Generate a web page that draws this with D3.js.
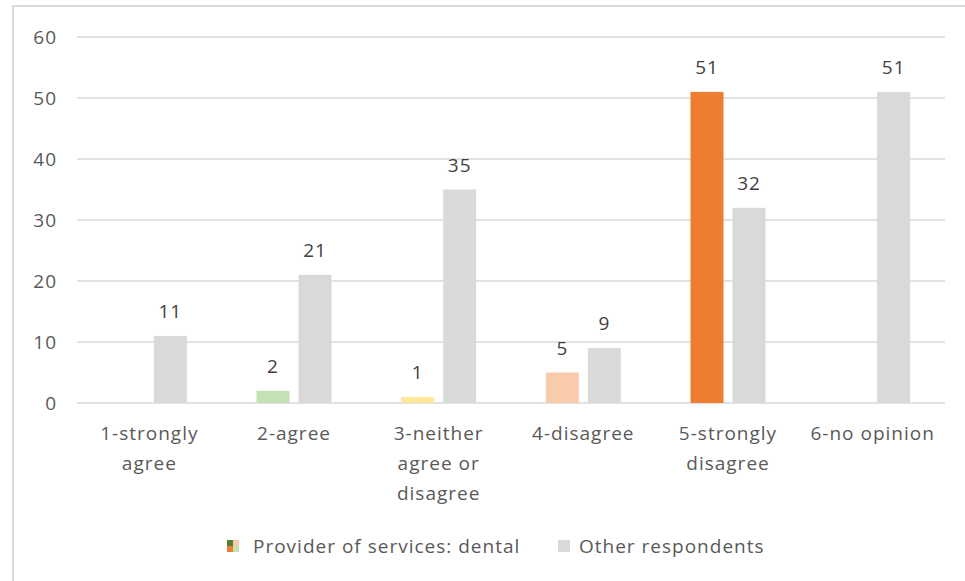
<!DOCTYPE html>
<html>
<head>
<meta charset="utf-8">
<script src="https://cdn.jsdelivr.net/npm/d3@7"></script>
<style>
  body { margin: 0; background: #fff; }
  svg { display: block; font-family: "Open Sans", sans-serif; }
  svg text { font-size: 19px; letter-spacing: 1px; }
</style>
</head>
<body>
<div id="chart"></div>
<script>
const categories = ["1-strongly agree", "2-agree", "3-neither agree or disagree", "4-disagree", "5-strongly disagree", "6-no opinion"];
const categoryLines = [["1-strongly", "agree"], ["2-agree"], ["3-neither", "agree or", "disagree"], ["4-disagree"], ["5-strongly", "disagree"], ["6-no opinion"]];
const providerValues = [null, 2, 1, 5, 51, null];
const providerColors = ["#c5e0b4", "#c5e0b4", "#ffe699", "#f8cbad", "#ed7d31", "#ed7d31"];
const otherValues = [11, 21, 35, 9, 32, 51];
const yTicks = [0, 10, 20, 30, 40, 50, 60];
const seriesNames = ["Provider of services: dental", "Other respondents"];

function drawChart(divId) {
    const width = 965, height = 581;
    const textColor = "#595959";
    const gridColor = "#d9d9d9";
    const otherColor = "#d9d9d9";

    const svg = d3.select("#" + divId).append("svg")
        .attr("width", width)
        .attr("height", height);

    // outer chart border
    svg.append("rect")
        .attr("x", 13).attr("y", 6)
        .attr("width", width + 10).attr("height", height + 10)
        .attr("fill", "none")
        .attr("stroke", gridColor)
        .attr("stroke-width", 2);

    const x = d3.scaleBand().domain(categories).range([77, 945]);
    const y = d3.scaleLinear().domain([0, 60]).range([403, 37]);

    const barW = 33, gap = 9;

    // gridlines + y labels
    svg.append("g").selectAll("line").data(yTicks).join("line")
        .attr("x1", 77).attr("x2", 945)
        .attr("y1", d => y(d)).attr("y2", d => y(d))
        .attr("stroke", gridColor)
        .attr("stroke-width", 1.5);

    svg.append("g").selectAll("text").data(yTicks).join("text")
        .attr("x", 57).attr("y", d => y(d))
        .attr("dy", "0.35em")
        .attr("text-anchor", "end")
        .attr("fill", textColor)
        .text(d => d);

    const center = c => x(c) + x.bandwidth() / 2;

    // provider bars
    const provData = categories.map((c, i) => ({ c: c, v: providerValues[i], color: providerColors[i] })).filter(d => d.v !== null);
    svg.append("g").selectAll("rect").data(provData).join("rect")
        .attr("x", d => center(d.c) - gap / 2 - barW)
        .attr("y", d => y(d.v))
        .attr("width", barW)
        .attr("height", d => y(0) - y(d.v))
        .attr("fill", d => d.color);

    svg.append("g").selectAll("text").data(provData).join("text")
        .attr("x", d => center(d.c) - gap / 2 - barW / 2)
        .attr("y", d => y(d.v) - 18)
        .attr("text-anchor", "middle")
        .attr("fill", "#404040")
        .text(d => d.v);

    // other respondents bars
    const otherData = categories.map((c, i) => ({ c: c, v: otherValues[i] }));
    svg.append("g").selectAll("rect").data(otherData).join("rect")
        .attr("x", d => center(d.c) + gap / 2)
        .attr("y", d => y(d.v))
        .attr("width", barW)
        .attr("height", d => y(0) - y(d.v))
        .attr("fill", otherColor);

    svg.append("g").selectAll("text").data(otherData).join("text")
        .attr("x", d => center(d.c) + gap / 2 + barW / 2)
        .attr("y", d => y(d.v) - 18)
        .attr("text-anchor", "middle")
        .attr("fill", "#404040")
        .text(d => d.v);

    // category labels
    const catG = svg.append("g").selectAll("text").data(categories).join("text")
        .attr("x", d => center(d))
        .attr("y", 440)
        .attr("text-anchor", "middle")
        .attr("fill", textColor);
    catG.selectAll("tspan").data((d, i) => categoryLines[i]).join("tspan")
        .attr("x", function() { return d3.select(this.parentNode).attr("x"); })
        .attr("dy", (d, i) => i === 0 ? 0 : 30)
        .text(d => d);

    // legend
    const lg = svg.append("g");
    const ix = 227, iy = 540, s = 12;
    const quads = [["#548235", 0, 0], ["#f8cbad", 1, 0], ["#ed7d31", 0, 1], ["#c5e0b4", 1, 1]];
    lg.selectAll("rect.q").data(quads).join("rect")
        .attr("class", "q")
        .attr("x", d => ix + d[1] * s / 2)
        .attr("y", d => iy + d[2] * s / 2)
        .attr("width", s / 2).attr("height", s / 2)
        .attr("fill", d => d[0]);
    lg.append("text")
        .attr("x", 253).attr("y", iy + 6).attr("dy", "0.35em")
        .attr("fill", textColor)
        .text(seriesNames[0]);
    lg.append("rect")
        .attr("x", 558).attr("y", iy)
        .attr("width", s).attr("height", s)
        .attr("fill", otherColor);
    lg.append("text")
        .attr("x", 579).attr("y", iy + 6).attr("dy", "0.35em")
        .attr("fill", textColor)
        .text(seriesNames[1]);
}

drawChart("chart");
</script>
</body>
</html>
